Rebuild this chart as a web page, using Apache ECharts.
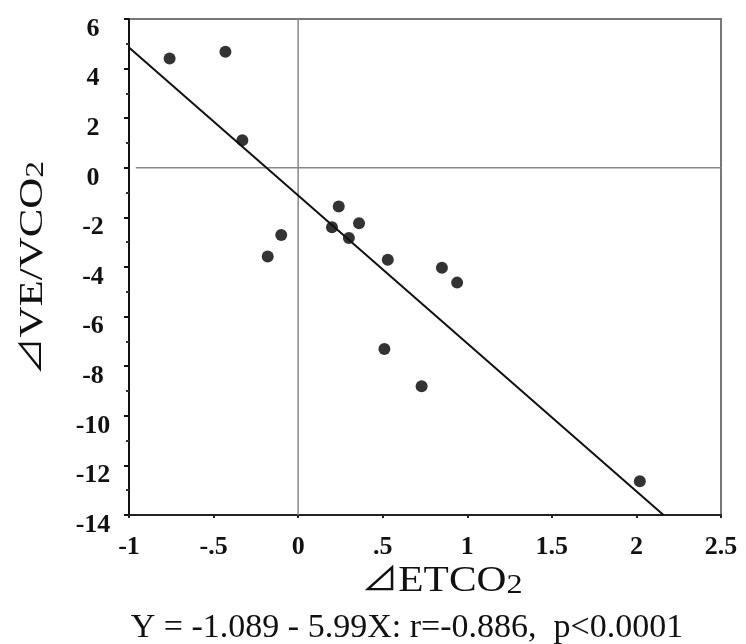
<!DOCTYPE html>
<html>
<head>
<meta charset="utf-8">
<script src="https://cdn.jsdelivr.net/npm/echarts@6/dist/echarts.min.js"></script>
<style>html,body{margin:0;padding:0;background:#fff}#c{width:746px;height:644px}</style>
</head>
<body>
<div id="c"></div>
<script>
// Data
var dEtco2 = [-0.76, -0.43, -0.33, -0.10, -0.18, 0.24, 0.20, 0.30, 0.36, 0.53, 0.85, 0.94, 0.51, 0.73, 2.02];
var dVeVco2 = [4.41, 4.68, 1.11, -2.71, -3.58, -1.56, -2.40, -2.83, -2.24, -3.71, -4.03, -4.63, -7.31, -8.81, -12.64];
// regression line endpoints (as drawn)
var fitX = [-1, 2.16];
var fitY = [4.85, -14];
// reference crosshair lines
var zeroH = [[-0.96, 0], [2.5, 0]];
var zeroV = [[0, -14], [0, 6]];
var xTicks = {min: -1, max: 2.5, interval: 0.5};
var yTicks = {min: -14, max: 6, interval: 2};
var xTitle = ['⊿', 'ETCO', '2'];
var yTitle = ['⊿', 'VE/VCO', '2'];
var formula = 'Y = -1.089 - 5.99X: r=-0.886,  p<0.0001';

var pts = dEtco2.map(function (x, i) { return [x, dVeVco2[i]]; });
var fit = fitX.map(function (x, i) { return [x, fitY[i]]; });
var serif = "'Liberation Serif', 'Times New Roman', 'Noto Sans CJK JP', serif";

function titleRich(big, small) {
  return {
    d: {fontSize: big - 4, fontFamily: serif, fill: '#111', color: '#111'},
    t: {fontSize: big, fontFamily: serif, fill: '#111', color: '#111'},
    s: {fontSize: small, fontFamily: serif, fill: '#111', color: '#111', padding: [7, 0, 0, 0]}
  };
}
function titleText(parts) {
  return '{d|' + parts[0] + '}{t|' + parts[1] + '}{s|' + parts[2] + '}';
}

var chart = echarts.init(document.getElementById('c'));
chart.setOption({
  animation: false,
  backgroundColor: '#fff',
  grid: {left: 129, right: 25, top: 19, bottom: 129, show: true, borderColor: '#777', borderWidth: 2},
  xAxis: {
    type: 'value', min: xTicks.min, max: xTicks.max, interval: xTicks.interval,
    splitLine: {show: false},
    axisLine: {onZero: false, lineStyle: {color: '#222', width: 2}},
    axisTick: {length: 3, lineStyle: {color: '#222', width: 2}},
    axisLabel: {
      margin: 19, color: '#111', fontSize: 26, fontWeight: 'bold', fontFamily: serif,
      formatter: function (v) { return v === 0 ? '0' : String(v).replace('0.', '.'); }
    }
  },
  yAxis: {
    type: 'value', min: yTicks.min, max: yTicks.max, interval: yTicks.interval,
    splitLine: {show: false},
    axisLine: {onZero: false, lineStyle: {color: '#111', width: 2}},
    axisTick: {length: 5, lineStyle: {color: '#111', width: 2}},
    minorTick: {show: true, splitNumber: 2, length: 3, lineStyle: {color: '#333', width: 2}},
    axisLabel: {
      margin: 36, align: 'center', verticalAlign: 'top', lineHeight: 20,
      color: '#111', fontSize: 26, fontWeight: 'bold', fontFamily: serif
    }
  },
  graphic: [
    {
      type: 'text', x: 442, y: 582, scaleX: 1.15,
      style: {text: titleText(xTitle), rich: titleRich(36, 28), align: 'center', verticalAlign: 'middle', fill: '#111'}
    },
    {
      type: 'text', x: 33, y: 268, rotation: Math.PI / 2, scaleX: 1.3,
      style: {text: titleText(yTitle), rich: titleRich(33, 26), align: 'center', verticalAlign: 'middle', fill: '#111'}
    },
    {
      type: 'text', x: 407, y: 628,
      style: {text: formula, fontSize: 34, fontFamily: serif, fill: '#111', align: 'center', verticalAlign: 'middle'}
    }
  ],
  series: [
    {type: 'line', data: zeroH, symbol: 'none', lineStyle: {color: '#888', width: 1.5}, silent: true},
    {type: 'line', data: zeroV, symbol: 'none', lineStyle: {color: '#888', width: 1.5}, silent: true},
    {type: 'line', data: fit, symbol: 'none', lineStyle: {color: '#111', width: 2}, silent: true},
    {type: 'scatter', data: pts, symbol: 'circle', symbolSize: 12, itemStyle: {color: '#000'}}
  ]
});
</script>
</body>
</html>
